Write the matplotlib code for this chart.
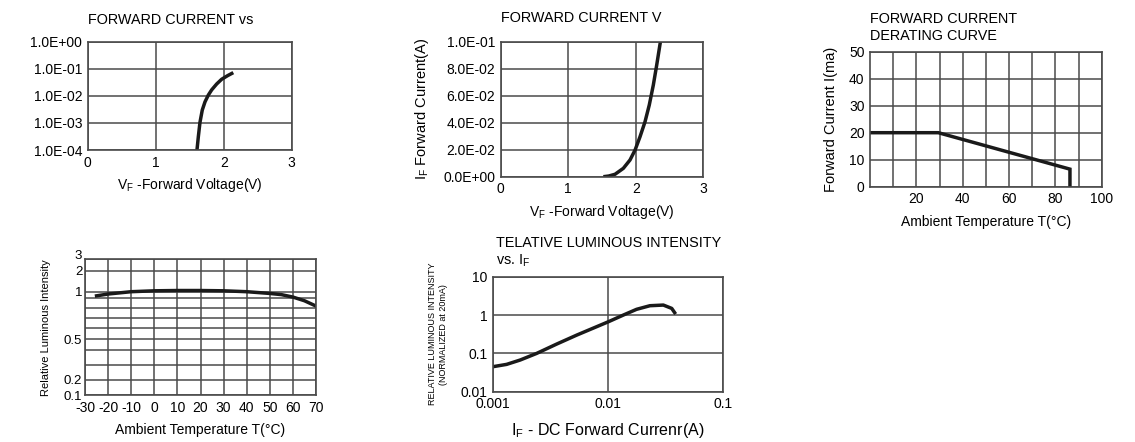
import numpy as np
import matplotlib
matplotlib.use("Agg")
import matplotlib.pyplot as plt
from matplotlib.ticker import FixedLocator, NullLocator, FixedFormatter

plt.rcParams['font.family'] = ['Liberation Sans', 'DejaVu Sans']
plt.rcParams['mathtext.fontset'] = 'custom'
plt.rcParams['mathtext.rm'] = 'Liberation Sans'
plt.rcParams['axes.unicode_minus'] = False

# ---------------- data ----------------
# Panel 1: forward current vs forward voltage (log)
p1_vf = [1.607, 1.627, 1.651, 1.685, 1.725, 1.774, 1.823, 1.897, 1.97, 2.059, 2.141]
p1_if = [1.0e-4, 3.1e-4, 1.05e-3, 3.0e-3, 6.0e-3, 1.07e-2, 1.66e-2, 2.75e-2, 4.1e-2, 5.6e-2, 7.2e-2]
p1_yticks = [1e-4, 1e-3, 1e-2, 1e-1, 1e0]
p1_yticklabels = ["1.0E-04", "1.0E-03", "1.0E-02", "1.0E-01", "1.0E+00"]
p1_xticks = [0, 1, 2, 3]

# Panel 2: forward current vs forward voltage (linear)
p2_vf = [1.52, 1.60, 1.693, 1.816, 1.915, 1.99, 2.063, 2.137, 2.20, 2.26, 2.31, 2.365]
p2_if = [0.0, 0.0005, 0.0018, 0.0062, 0.0124, 0.0198, 0.0296, 0.0407, 0.0531, 0.0679, 0.0827, 0.10]
p2_yticks = [0.0, 0.02, 0.04, 0.06, 0.08, 0.10]
p2_yticklabels = ["0.0E+00", "2.0E-02", "4.0E-02", "6.0E-02", "8.0E-02", "1.0E-01"]
p2_xticks = [0, 1, 2, 3]

# Panel 3: derating curve
p3_temp = [0, 29.5, 86.3, 86.3]
p3_curr = [20, 20, 6.5, 0]
p3_xticks = [20, 40, 60, 80, 100]
p3_yticks = [0, 10, 20, 30, 40, 50]

# Panel 4: relative luminous intensity vs ambient temperature
p4_temp = [-25, -20, -10, 0, 10, 20, 30, 40, 50, 55, 60, 65, 70]
p4_rel = [0.93, 0.96, 1.0, 1.03, 1.04, 1.04, 1.03, 1.0, 0.97, 0.95, 0.91, 0.87, 0.82]
p4_xticks = [-30, -20, -10, 0, 10, 20, 30, 40, 50, 60, 70]
p4_grid_vals = [0.1, 0.2, 0.3, 0.4, 0.5, 0.6, 0.7, 0.8, 0.9, 1.0, 2.0, 3.0]
p4_grid_pos = [0.0, 15.0, 30.0, 45.0, 55.7, 66.7, 76.7, 86.7, 97.3, 103.3, 124.3, 135.7]
p4_yticks = [0.1, 0.2, 0.5, 1, 2, 3]
p4_yticklabels = ["0.1", "0.2", "0.5", "1", "2", "3"]

# Panel 5: relative luminous intensity vs forward current
p5_if = [0.001, 0.00132, 0.00173, 0.00241, 0.00359, 0.00536, 0.00798, 0.0101, 0.0136,
         0.0177, 0.0231, 0.0302, 0.0357, 0.0386]
p5_rel = [0.0448, 0.0516, 0.067, 0.10, 0.175, 0.30, 0.497, 0.67, 1.0,
          1.41, 1.75, 1.82, 1.49, 1.06]
p5_xticks = [0.001, 0.01, 0.1]
p5_xticklabels = ["0.001", "0.01", "0.1"]
p5_yticks = [0.01, 0.1, 1, 10]
p5_yticklabels = ["0.01", "0.1", "1", "10"]

# ---------------- figure ----------------
W, H = 1135, 442
fig = plt.figure(figsize=(W / 100, H / 100), dpi=100)


def add_ax(left, right, top, bottom):
    return fig.add_axes([left / W, 1 - bottom / H, (right - left) / W, (bottom - top) / H])


GRID = '#4a4a4a'
FS = 10
TFS = 10.4
LW = 2.5
CURVE = '#1a1a1a'


def style(ax):
    for s in ax.spines.values():
        s.set_color(GRID)
        s.set_linewidth(1.2)
    ax.tick_params(length=0, labelsize=FS, pad=4)
    ax.set_axisbelow(True)


def title(ax, txt, dy, dx=0):
    ax.annotate(txt, xy=(0, 1), xycoords='axes fraction', xytext=(dx, dy),
                textcoords='offset pixels', fontsize=TFS, ha='left', va='baseline',
                linespacing=1.25)


# Panel 1
ax1 = add_ax(87.7, 291.7, 41.7, 150)
ax1.plot(p1_vf, p1_if, color=CURVE, lw=LW, solid_capstyle='butt')
ax1.set_yscale('log')
ax1.set_xlim(0, 3)
ax1.set_ylim(1e-4, 1)
ax1.yaxis.set_major_locator(FixedLocator(p1_yticks))
ax1.yaxis.set_major_formatter(FixedFormatter(p1_yticklabels))
ax1.yaxis.set_minor_locator(NullLocator())
ax1.set_xticks(p1_xticks)
ax1.grid(True, color=GRID, lw=1.1)
style(ax1)
ax1.set_xlabel(r"$\mathregular{V_F}$ -Forward Voltage(V)", fontsize=FS, labelpad=5)
title(ax1, "FORWARD CURRENT vs", 18)

# Panel 2
ax2 = add_ax(500.7, 703.3, 41.7, 176.7)
ax2.plot(p2_vf, p2_if, color=CURVE, lw=LW, solid_capstyle='butt')
ax2.set_xlim(0, 3)
ax2.set_ylim(0, 0.1)
ax2.set_yticks(p2_yticks)
ax2.set_yticklabels(p2_yticklabels)
ax2.set_xticks(p2_xticks)
ax2.grid(True, color=GRID, lw=1.1)
style(ax2)
ax2.set_xlabel(r"$\mathregular{V_F}$ -Forward Voltage(V)", fontsize=FS, labelpad=5)
ax2.set_ylabel(r"$\mathregular{I_F}$ Forward Current(A)", fontsize=FS + 0.5, labelpad=9)
title(ax2, "FORWARD CURRENT V", 20)

# Panel 3
ax3 = add_ax(870, 1101.7, 51.7, 186.7)
ax3.plot(p3_temp, p3_curr, color=CURVE, lw=LW, solid_joinstyle='miter')
ax3.set_xlim(0, 100)
ax3.set_ylim(0, 50)
ax3.set_xticks(p3_xticks)
ax3.set_yticks(p3_yticks)
ax3.set_xticks(np.arange(10, 100, 10), minor=True)
ax3.grid(True, which='both', color=GRID, lw=1.1)
style(ax3)
ax3.tick_params(which='minor', length=0)
ax3.set_xlabel("Ambient Temperature T(°C)", fontsize=FS, labelpad=6)
ax3.set_ylabel("Forward Current I(ma)", fontsize=FS + 0.5, labelpad=8)
title(ax3, "FORWARD CURRENT\nDERATING CURVE", 12)

# Panel 4
p4_lv = np.log10(p4_grid_vals)


def p4_fwd(v):
    v = np.clip(np.asarray(v, dtype=float), 1e-6, None)
    return np.interp(np.log10(v), p4_lv, p4_grid_pos)


def p4_inv(p):
    return 10 ** np.interp(np.asarray(p, dtype=float), p4_grid_pos, p4_lv)


ax4 = add_ax(85, 316, 259.3, 395)
ax4.set_yscale('function', functions=(p4_fwd, p4_inv))
ax4.plot(p4_temp, p4_rel, color=CURVE, lw=LW)
ax4.set_xlim(-30, 70)
ax4.set_ylim(0.1, 3)
ax4.set_xticks(p4_xticks)
ax4.yaxis.set_major_locator(FixedLocator(p4_yticks))
ax4.yaxis.set_major_formatter(FixedFormatter(p4_yticklabels))
ax4.yaxis.set_minor_locator(FixedLocator(p4_grid_vals))
ax4.grid(True, which='both', color=GRID, lw=1.1)
style(ax4)
ax4.tick_params(which='minor', length=0)
ax4.tick_params(axis='y', pad=2, labelsize=9.5)
for lab in ax4.get_yticklabels():
    if lab.get_text() == "3":
        lab.set_verticalalignment('baseline')
ax4.set_xlabel("Ambient Temperature T(°C)", fontsize=FS, labelpad=6)
ax4.set_ylabel("Relative Luminous Intensity", fontsize=8, labelpad=9)

# Panel 5
ax5 = add_ax(492.7, 723.3, 276.7, 391.7)
ax5.plot(p5_if, p5_rel, color=CURVE, lw=LW, solid_capstyle='butt')
ax5.set_xscale('log')
ax5.set_yscale('log')
ax5.set_xlim(0.001, 0.1)
ax5.set_ylim(0.01, 10)
ax5.xaxis.set_major_locator(FixedLocator(p5_xticks))
ax5.xaxis.set_major_formatter(FixedFormatter(p5_xticklabels))
ax5.yaxis.set_major_locator(FixedLocator(p5_yticks))
ax5.yaxis.set_major_formatter(FixedFormatter(p5_yticklabels))
ax5.xaxis.set_minor_locator(NullLocator())
ax5.yaxis.set_minor_locator(NullLocator())
ax5.grid(True, color=GRID, lw=1.1)
style(ax5)
ax5.set_xlabel(r"$\mathregular{I_F}$ - DC Forward Currenr(A)", fontsize=11.5, labelpad=7)
ax5.set_ylabel("RELATIVE LUMINOUS INTENSITY\n(NORMALIZED at 20mA)", fontsize=6.5, labelpad=9,
               linespacing=1.2)
title(ax5, "TELATIVE LUMINOUS INTENSITY\nvs. $\\mathregular{I_F}$", 12, dx=3)

fig.savefig("out.png", dpi=100)
